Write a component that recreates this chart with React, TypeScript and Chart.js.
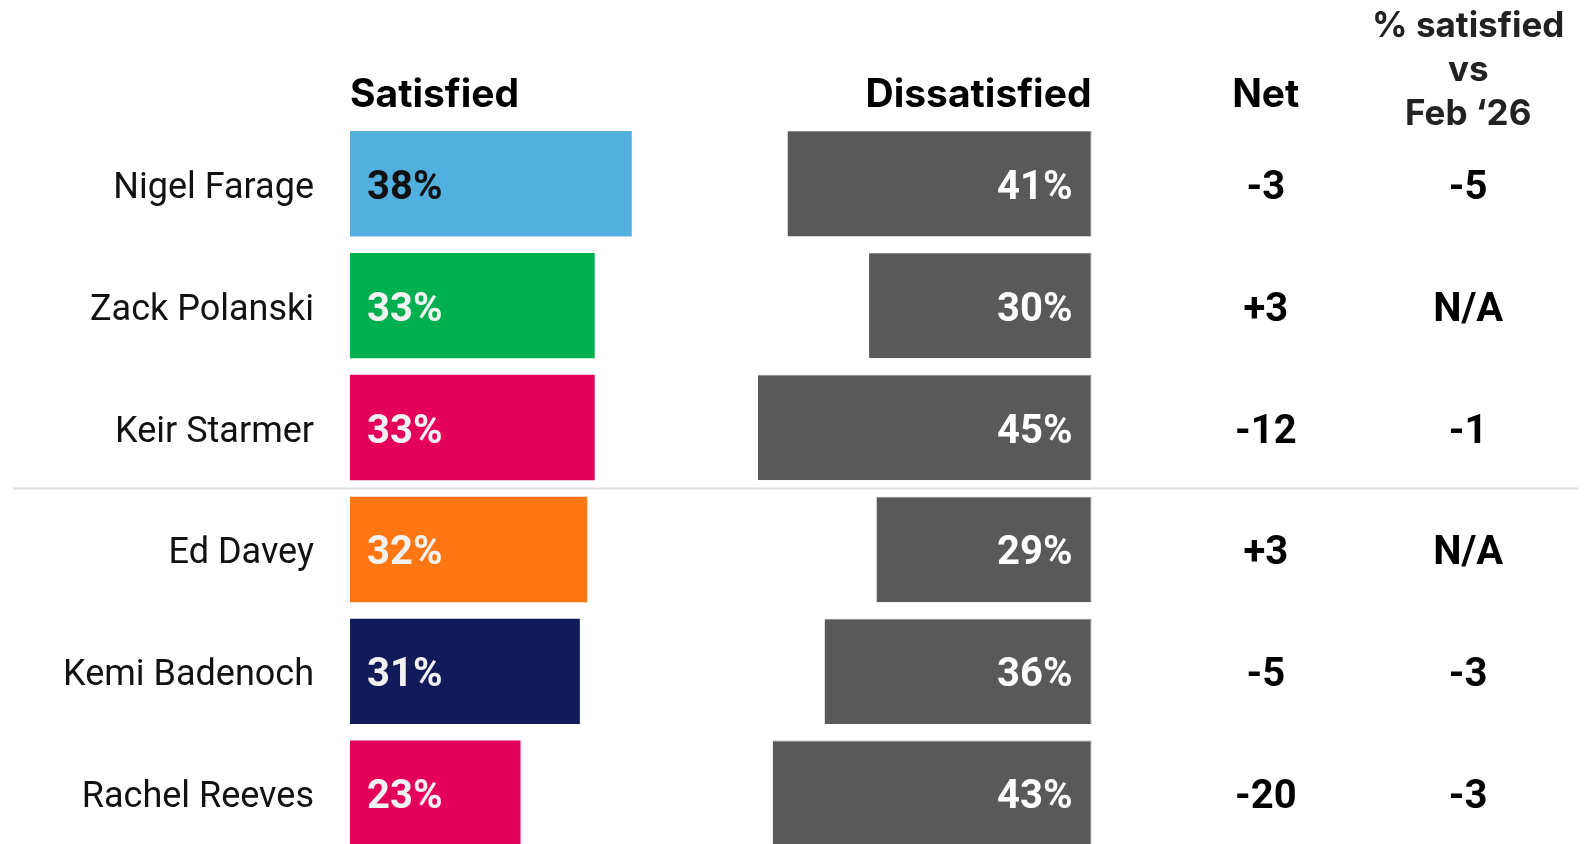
import { useEffect, useRef } from "react";
import { Chart, registerables } from "chart.js";

Chart.register(...registerables);

const names = ["Nigel Farage", "Zack Polanski", "Keir Starmer", "Ed Davey", "Kemi Badenoch", "Rachel Reeves"];
const satisfied = [38, 33, 33, 32, 31, 23];
const dissatisfied = [41, 30, 45, 29, 36, 43];
const netLabels = ["-3", "+3", "-12", "+3", "-5", "-20"];
const changeLabels = ["-5", "N/A", "-1", "N/A", "-3", "-3"];
const partyColors = ["#52B0DE", "#00AF4F", "#E4005A", "#FF7712", "#121B5A", "#E4005A"];
const satLabelColors = ["#111111", "#F2F2F2", "#F2F2F2", "#F2F2F2", "#F2F2F2", "#F2F2F2"];
const headerSatisfied = "Satisfied";
const headerDissatisfied = "Dissatisfied";
const headerNet = "Net";
const headerChange = ["% satisfied", "vs", "Feb \u201826"];

// layout constants (not data)
const DISSAT_END = 100;
const X_MAX = 166;
const NET_X = 123.5;
const CHANGE_X = 150.8;
const SEPARATOR_AFTER = 2;

const valueFont = "bold 40px Roboto";

const tablePlugin = {
  id: "tablePlugin",
  beforeDatasetsDraw(chart: any) {
    const { ctx } = chart;
    const y = chart.scales.y;
    const sy = y.getPixelForValue(SEPARATOR_AFTER + 0.5);
    ctx.save();
    ctx.strokeStyle = "#DCDCDC";
    ctx.lineWidth = 2;
    ctx.beginPath();
    ctx.moveTo(13, sy);
    ctx.lineTo(1578, sy);
    ctx.stroke();
    ctx.restore();
  },
  afterDatasetsDraw(chart: any) {
    const { ctx } = chart;
    const x = chart.scales.x;
    const y = chart.scales.y;
    ctx.save();
    ctx.textBaseline = "alphabetic";
    ctx.font = valueFont;
    const capHalf = 15;
    const satMeta = chart.getDatasetMeta(0);
    const disMeta = chart.getDatasetMeta(1);
    satMeta.data.forEach((bar: any, i: number) => {
      ctx.fillStyle = satLabelColors[i];
      ctx.textAlign = "left";
      ctx.fillText(satisfied[i] + "%", bar.base + 17, bar.y + capHalf);
    });
    disMeta.data.forEach((bar: any, i: number) => {
      ctx.fillStyle = "#FFFFFF";
      ctx.textAlign = "right";
      ctx.fillText(dissatisfied[i] + "%", bar.x - 19, bar.y + capHalf);
    });
    ctx.fillStyle = "#000000";
    ctx.textAlign = "center";
    names.forEach((_, i) => {
      const cy = y.getPixelForValue(i);
      ctx.fillText(netLabels[i], x.getPixelForValue(NET_X), cy + capHalf);
      ctx.fillText(changeLabels[i], x.getPixelForValue(CHANGE_X), cy + capHalf);
    });

    // headers
    ctx.font = "bold 39px Inter";
    ctx.fillStyle = "#000000";
    ctx.textAlign = "left";
    ctx.fillText(headerSatisfied, x.getPixelForValue(0), 107);
    ctx.textAlign = "right";
    ctx.fillText(headerDissatisfied, x.getPixelForValue(DISSAT_END), 107);
    ctx.textAlign = "center";
    ctx.fillText(headerNet, x.getPixelForValue(NET_X), 107);
    ctx.font = "bold 35px Inter";
    ctx.fillStyle = "#222222";
    const baselines = [36.5, 80.5, 125];
    headerChange.forEach((t, i) => {
      ctx.fillText(t, x.getPixelForValue(CHANGE_X), baselines[i]);
    });
    ctx.restore();
  },
};

export default function App() {
  const ref = useRef<HTMLCanvasElement | null>(null);
  useEffect(() => {
    if (!ref.current) return;
    const chart = new Chart(ref.current, {
      type: "bar",
      data: {
        labels: names,
        datasets: [
          {
            label: "Satisfied",
            data: satisfied,
            backgroundColor: partyColors,
            borderWidth: 0,
            barPercentage: 0.865,
            categoryPercentage: 1,
            grouped: false,
          },
          {
            label: "Dissatisfied",
            data: dissatisfied.map((d) => [DISSAT_END - d, DISSAT_END]),
            backgroundColor: "#595959",
            borderColor: "#8C8C8C",
            borderWidth: { top: 1, right: 1, left: 0, bottom: 0 },
            borderSkipped: false,
            barPercentage: 0.865,
            categoryPercentage: 1,
            grouped: false,
          },
        ],
      },
      options: {
        indexAxis: "y",
        animation: false,
        responsive: false,
        maintainAspectRatio: false,
        events: [],
        layout: { padding: { top: 122.8, bottom: 15.8, left: 0, right: 9.1 } },
        plugins: { legend: { display: false }, tooltip: { enabled: false }, title: { display: false } },
        scales: {
          x: { type: "linear", min: 0, max: X_MAX, display: false },
          y: {
            type: "category",
            position: "left",
            grid: { display: false, drawTicks: false },
            border: { display: false },
            ticks: {
              padding: 36,
              labelOffset: 5,
              color: "#111111",
              font: { family: "Roboto", size: 36, weight: "normal" },
            },
            afterFit: (scale: any) => {
              scale.width = 350;
              scale.paddingTop = 0;
              scale.paddingBottom = 0;
            },
          },
        },
      },
      plugins: [tablePlugin],
    } as any);
    return () => chart.destroy();
  }, []);
  return (
    <div style={{ position: "fixed", left: 0, top: 0, width: 1590, height: 844, overflow: "hidden", background: "#fff" }}>
      <canvas ref={ref} width={1590} height={870} style={{ width: 1590, height: 870, display: "block" }} />
    </div>
  );
}
